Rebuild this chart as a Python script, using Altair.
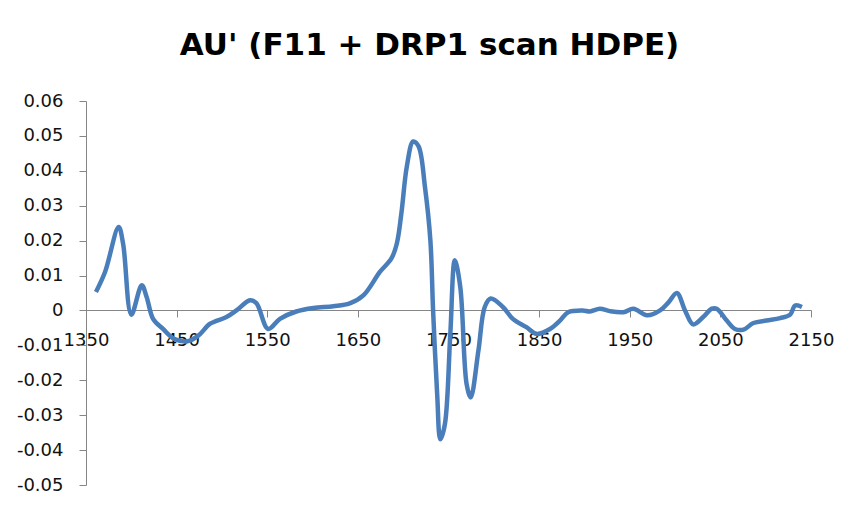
import altair as alt
import pandas as pd

title_text = "AU' (F11 + DRP1 scan HDPE)"

wavenumber = [1361, 1371, 1386, 1391, 1400, 1411.5, 1417, 1424, 1435, 1447, 1462, 1474,
              1487, 1505, 1516, 1531, 1538, 1551, 1564, 1582, 1601, 1623, 1641, 1656,
              1674.5, 1687, 1693, 1698, 1704, 1711, 1717, 1724, 1730, 1733, 1737.5, 1741,
              1746, 1752, 1757, 1763, 1770, 1774.5, 1783, 1790, 1796.5, 1810, 1821, 1836,
              1847, 1862, 1873, 1882, 1898, 1906, 1917, 1928, 1943, 1954, 1969, 1983.5,
              1993, 2002, 2011, 2020, 2031, 2040.5, 2046, 2057, 2066, 2075.5, 2086.5, 2101,
              2116, 2127, 2132.5, 2140]

au_prime = [0.0053, 0.0110, 0.0239, 0.0190, -0.0012, 0.0072, 0.0038, -0.0024, -0.0053, -0.0081,
            -0.0088, -0.0072, -0.0038, -0.0019, 0.0000, 0.0029, 0.0021, -0.0053, -0.0024, -0.0003,
            0.0007, 0.0012, 0.0020, 0.0043, 0.0111, 0.0149, 0.0192, 0.0278, 0.0412, 0.0484,
            0.0470, 0.0354, 0.0201, 0.0000, -0.0240, -0.0369, -0.0326, -0.0067, 0.0144, 0.0067,
            -0.0211, -0.0249, -0.0115, 0.0010, 0.0034, 0.0010, -0.0024, -0.0048, -0.0067, -0.0053,
            -0.0029, -0.0005, 0.0000, -0.0003, 0.0005, -0.0002, -0.0005, 0.0005, -0.0014, 0.0000,
            0.0024, 0.0050, 0.0000, -0.0040, -0.0019, 0.0005, 0.0005, -0.0029, -0.0053, -0.0055,
            -0.0036, -0.0029, -0.0022, -0.0012, 0.0014, 0.0010]

x_ticks = [1350, 1450, 1550, 1650, 1750, 1850, 1950, 2050, 2150]
y_ticks = [-0.05, -0.04, -0.03, -0.02, -0.01, 0.0, 0.01, 0.02, 0.03, 0.04, 0.05, 0.06]

df = pd.DataFrame({"x": wavenumber, "y": au_prime})

FONT = "DejaVu Sans"
AXIS_COLOR = "#868686"
LABEL_COLOR = "#111111"

chart = alt.Chart(df).mark_line(
    interpolate="catmull-rom", color="#4A7EBB", strokeWidth=4.5
).encode(
    x=alt.X("x:Q",
            scale=alt.Scale(domain=[1350, 2150], nice=False, zero=False),
            axis=alt.Axis(values=x_ticks, title=None, grid=False, format="d",
                          offset=-175, domainColor=AXIS_COLOR, tickColor=AXIS_COLOR,
                          tickSize=7, labelPadding=14, labelFont=FONT, labelFontSize=18,
                          labelColor=LABEL_COLOR, labelFlush=False, labelOverlap=False)),
    y=alt.Y("y:Q",
            scale=alt.Scale(domain=[-0.05, 0.06], nice=False, zero=False),
            axis=alt.Axis(values=y_ticks, title=None, grid=False,
                          labelExpr="abs(datum.value) < 1e-9 ? '0' : replace(format(datum.value, '.2f'), '\u2212', '-')",
                          domainColor=AXIS_COLOR, tickColor=AXIS_COLOR, tickSize=7,
                          labelPadding=16, labelFont=FONT, labelFontSize=18,
                          labelColor=LABEL_COLOR, labelOverlap=False)),
).properties(
    width=725,
    height=384,
    title=alt.TitleParams(title_text, font=FONT, fontSize=31, fontWeight="bold",
                          color="#000000", anchor="middle", dx=-19, offset=30),
    autosize=alt.AutoSizeParams(type="none"),
    padding={"left": 78, "top": 93, "right": 30, "bottom": 20},
).configure(background="white").configure_view(stroke=None)

chart.save("out.html", embed_options={"renderer": "svg", "actions": False})
